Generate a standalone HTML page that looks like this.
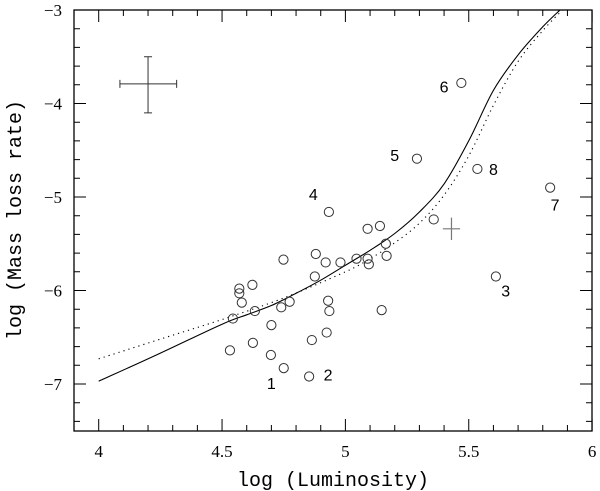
<!DOCTYPE html>
<html><head><meta charset="utf-8"><style>
body{margin:0;background:#fff}
svg{display:block;font-family:"Liberation Serif",serif}
</style></head><body>
<svg id="chart" width="600" height="491" viewBox="0 0 600 491" xmlns="http://www.w3.org/2000/svg">
<g id="g"></g>
</svg>
<script>
const pointX=[5.47,5.29,5.535,5.83,4.933,5.358,5.09,5.14,5.164,5.167,4.88,4.749,4.92,4.98,5.045,5.09,5.095,4.876,5.61,4.623,4.57,4.57,4.58,4.774,4.74,4.93,4.935,5.147,4.633,4.544,4.70,4.924,4.625,4.864,4.532,4.698,4.75,4.853];
const pointY=[-3.78,-4.59,-4.70,-4.90,-5.16,-5.24,-5.34,-5.31,-5.50,-5.63,-5.61,-5.67,-5.70,-5.70,-5.66,-5.66,-5.72,-5.85,-5.85,-5.94,-5.98,-6.03,-6.13,-6.12,-6.18,-6.11,-6.22,-6.21,-6.22,-6.30,-6.37,-6.45,-6.56,-6.53,-6.64,-6.69,-6.83,-6.92];
const labelText=["6","5","8","7","4","3","2","1"];
const labelX=[5.40,5.20,5.60,5.85,4.87,5.65,4.93,4.70];
const labelY=[-3.82,-4.55,-4.70,-5.08,-4.97,-6.0,-6.90,-6.99];
const solidX=[4,4.25,4.5,4.6,4.7,4.8,4.9,5.0,5.1,5.2,5.3,5.4,5.5,5.6,5.7,5.8,5.87];
const solidY=[-6.97,-6.67,-6.36,-6.26,-6.16,-6.03,-5.89,-5.73,-5.57,-5.39,-5.16,-4.86,-4.40,-3.86,-3.48,-3.18,-3.0];
const dotX=[4,4.25,4.5,4.75,5.0,5.1,5.2,5.3,5.4,5.5,5.6,5.7,5.8,5.88];
const dotY=[-6.73,-6.52,-6.31,-6.08,-5.80,-5.66,-5.49,-5.28,-4.98,-4.56,-4.02,-3.55,-3.22,-3.0];
const xTicks=[4,4.5,5,5.5,6];
const yTicks=[-3,-4,-5,-6,-7];

const X0=74,X1=592,Y0=10,Y1=431;
const sx=v=>98.7+(v-4)*246.7;
const sy=v=>10+(-3-v)*93.5;
const NS="http://www.w3.org/2000/svg";
const g=document.getElementById('g');
function mk(t,a,p){const e=document.createElementNS(NS,t);for(const k in a)e.setAttribute(k,a[k]);(p||g).appendChild(e);return e;}

const frame=mk('rect',{x:X0,y:Y0,width:X1-X0,height:Y1-Y0,fill:'none',stroke:'#000','stroke-width':1.3});



for(let i=0;i<=21;i++){const v=3.9+i*0.1;const x=sx(v);const maj=Math.abs((v*2)-Math.round(v*2))<1e-6;const L=maj?12:6;
 const t=mk('path',{d:`M${x},${Y1}v${-L}M${x},${Y0}v${L}`,stroke:'#000','stroke-width':1});
 
 }
xTicks.forEach(v=>{const t=mk('text',{x:sx(v),y:457,'font-size':17,'text-anchor':'middle'});t.textContent=String(v);
 
 });
for(let i=0;i<=22;i++){const v=-3-i*0.2;const y=sy(v);const maj=Math.abs(v-Math.round(v))<1e-6;const L=maj?12:6;
 const t=mk('path',{d:`M${X0},${y}h${L}M${X1},${y}h${-L}`,stroke:'#000','stroke-width':1});
 
 }
yTicks.forEach(v=>{const t=mk('text',{x:62,y:sy(v)+6,'font-size':17,'text-anchor':'end'});t.textContent='\u2212'+Math.abs(v);
 
 });

const xt=mk('text',{x:333,y:486,'font-size':20,'text-anchor':'middle','font-family':'Liberation Mono, monospace'});xt.textContent='log (Luminosity)';


const yt=mk('text',{x:0,y:0,'font-size':20,'text-anchor':'middle','font-family':'Liberation Mono, monospace',transform:'translate(21,220) rotate(-90)'});yt.textContent='log (Mass loss rate)';



const cp=mk('clipPath',{id:'cp'});mk('rect',{x:X0,y:Y0,width:X1-X0,height:Y1-Y0},cp);
function smooth(xs,ys){const P=xs.map((x,i)=>[sx(x),sy(ys[i])]);let d='M'+P[0][0].toFixed(1)+','+P[0][1].toFixed(1);
 for(let i=0;i<P.length-1;i++){const p0=P[Math.max(0,i-1)],p1=P[i],p2=P[i+1],p3=P[Math.min(P.length-1,i+2)];
  const c1=[p1[0]+(p2[0]-p0[0])/6,p1[1]+(p2[1]-p0[1])/6],c2=[p2[0]-(p3[0]-p1[0])/6,p2[1]-(p3[1]-p1[1])/6];
  d+=`C${c1[0].toFixed(1)},${c1[1].toFixed(1)} ${c2[0].toFixed(1)},${c2[1].toFixed(1)} ${p2[0].toFixed(1)},${p2[1].toFixed(1)}`;}
 return d;}
const sl=mk('path',{d:smooth(solidX,solidY),fill:'none',stroke:'#000','stroke-width':1.1,'clip-path':'url(#cp)'});


const dl=mk('path',{d:smooth(dotX,dotY),fill:'none',stroke:'#000','stroke-width':1.1,'stroke-dasharray':'1.2 4','clip-path':'url(#cp)'});



pointX.forEach((x,i)=>{const c=mk('circle',{cx:sx(x),cy:sy(pointY[i]),r:4.6,fill:'none',stroke:'#333','stroke-width':1});
 
 });
labelText.forEach((s,i)=>{const t=mk('text',{x:sx(labelX[i]),y:sy(labelY[i])+6,'font-size':16,'font-family':'Liberation Sans, sans-serif','text-anchor':'middle'});t.textContent=s;
 
 });

const eb=mk('path',{d:`M${sx(4.086)},${sy(-3.79)}H${sx(4.316)}M${sx(4.086)},${sy(-3.79)-4}v8M${sx(4.316)},${sy(-3.79)-4}v8M${sx(4.2)},${sy(-3.5)}V${sy(-4.1)}M${sx(4.2)-4},${sy(-3.5)}h8M${sx(4.2)-4},${sy(-4.1)}h8`,stroke:'#333','stroke-width':1,fill:'none'});


const gp=mk('path',{d:`M${sx(5.395)},${sy(-5.34)}H${sx(5.465)}M${sx(5.43)},${sy(-5.22)}V${sy(-5.46)}`,stroke:'#777','stroke-width':1.2});


</script>
</body></html>
